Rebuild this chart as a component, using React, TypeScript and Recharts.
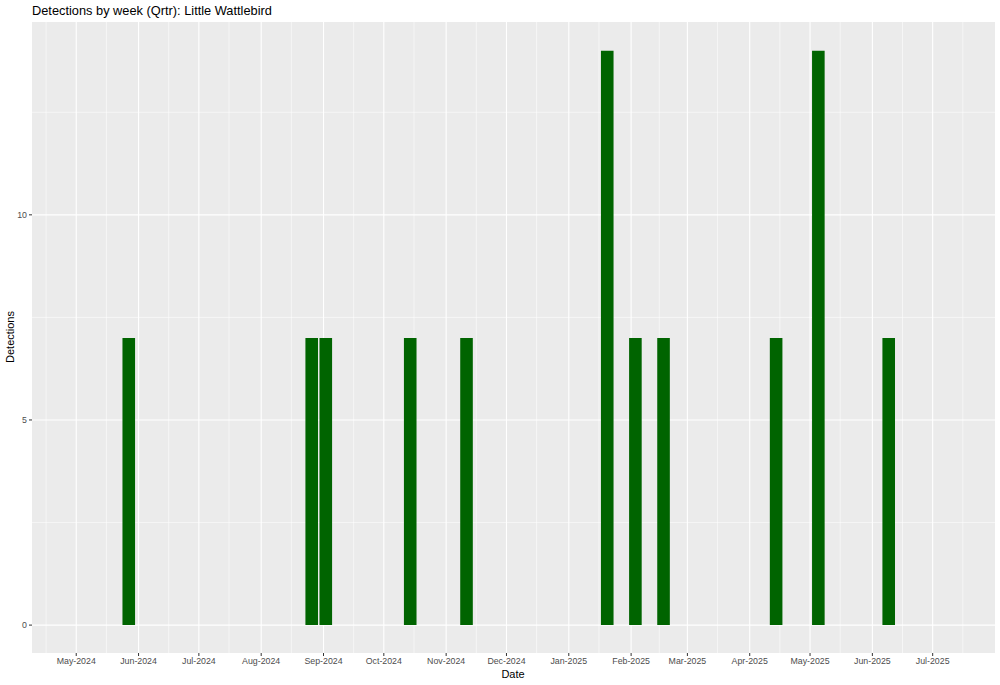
import { BarChart, Bar, XAxis, YAxis, CartesianGrid } from "recharts"

// weekly detection counts (week start, Monday)
const weekStarts = [
  "2024-05-27", "2024-08-26", "2024-09-02", "2024-10-14", "2024-11-11",
  "2025-01-20", "2025-02-03", "2025-02-17", "2025-04-14", "2025-05-05", "2025-06-09",
]
const detections = [7, 7, 7, 7, 7, 14, 7, 7, 7, 14, 7]

// axis breaks
const monthBreaks = [
  "2024-05-01", "2024-06-01", "2024-07-01", "2024-08-01", "2024-09-01", "2024-10-01",
  "2024-11-01", "2024-12-01", "2025-01-01", "2025-02-01", "2025-03-01", "2025-04-01",
  "2025-05-01", "2025-06-01", "2025-07-01",
]
// minor grid between months (incl. the ones just outside the breaks)
const monthMinor = [
  "2024-04-16", "2024-05-16", "2024-06-16", "2024-07-16", "2024-08-16", "2024-09-16",
  "2024-10-16", "2024-11-16", "2024-12-16", "2025-01-16", "2025-02-15", "2025-03-16",
  "2025-04-16", "2025-05-16", "2025-06-16", "2025-07-16",
]
const yBreaks = [0, 5, 10]
const yMinor = [2.5, 7.5, 12.5]
const xLimits = ["2024-04-09", "2025-08-01"]
const yLimits = [-0.68, 14.7]

const MONTHS = ["Jan", "Feb", "Mar", "Apr", "May", "Jun", "Jul", "Aug", "Sep", "Oct", "Nov", "Dec"]

const toDay = (s: string) => Date.parse(s + "T00:00:00Z") / 86400000
const fmtMonth = (d: number) => {
  const dt = new Date(d * 86400000)
  return `${MONTHS[dt.getUTCMonth()]}-${dt.getUTCFullYear()}`
}

const data = weekStarts.map((w, i) => ({ week: toDay(w), n: detections[i] }))

const FONT = "'Liberation Sans', Arial, Helvetica, sans-serif"

export default function App() {
  return (
    <div
      style={{
        position: "fixed",
        left: 0,
        top: 0,
        width: 1000,
        height: 685,
        background: "#fff",
        fontFamily: FONT,
      }}
    >
      <div style={{ position: "absolute", left: 32, top: 3, fontSize: 12.8, color: "#000" }}>
        Detections by week (Qrtr): Little Wattlebird
      </div>
      <div
        style={{
          position: "absolute",
          left: 10,
          top: 337,
          fontSize: 11,
          color: "#000",
          transform: "translate(-50%, -50%) rotate(-90deg)",
          whiteSpace: "nowrap",
        }}
      >
        Detections
      </div>
      <div
        style={{
          position: "absolute",
          left: 513,
          top: 674,
          fontSize: 11,
          color: "#000",
          transform: "translate(-50%, -50%)",
        }}
      >
        Date
      </div>
      <BarChart
        width={1000}
        height={685}
        data={data}
        margin={{ top: 22, right: 5, bottom: 12, left: 0 }}
        style={{ position: "absolute", left: 0, top: 0 }}
      >
        <CartesianGrid
          fill="#EBEBEB"
          stroke="#FFFFFF"
          strokeWidth={0.55}
          horizontalValues={yMinor}
          verticalValues={monthMinor.map(toDay)}
        />
        <CartesianGrid
          stroke="#FFFFFF"
          strokeWidth={1.1}
          horizontalValues={yBreaks}
          verticalValues={monthBreaks.map(toDay)}
        />
        <XAxis
          dataKey="week"
          type="number"
          scale="linear"
          domain={xLimits.map(toDay)}
          allowDataOverflow
          ticks={monthBreaks.map(toDay)}
          interval={0}
          tickFormatter={fmtMonth}
          height={20}
          tickSize={3}
          tickMargin={2}
          axisLine={false}
          tickLine={{ stroke: "#333333", strokeWidth: 1 }}
          tick={{ fill: "#4D4D4D", fontSize: 8.8, fontFamily: FONT }}
        />
        <YAxis
          type="number"
          domain={yLimits}
          allowDataOverflow
          ticks={yBreaks}
          interval={0}
          width={32}
          tickSize={3}
          tickMargin={2}
          axisLine={false}
          tickLine={{ stroke: "#333333", strokeWidth: 1 }}
          tick={{ fill: "#4D4D4D", fontSize: 8.8, fontFamily: FONT }}
        />
        <Bar dataKey="n" fill="#006400" barSize={12.6} isAnimationActive={false} />
      </BarChart>
    </div>
  )
}
